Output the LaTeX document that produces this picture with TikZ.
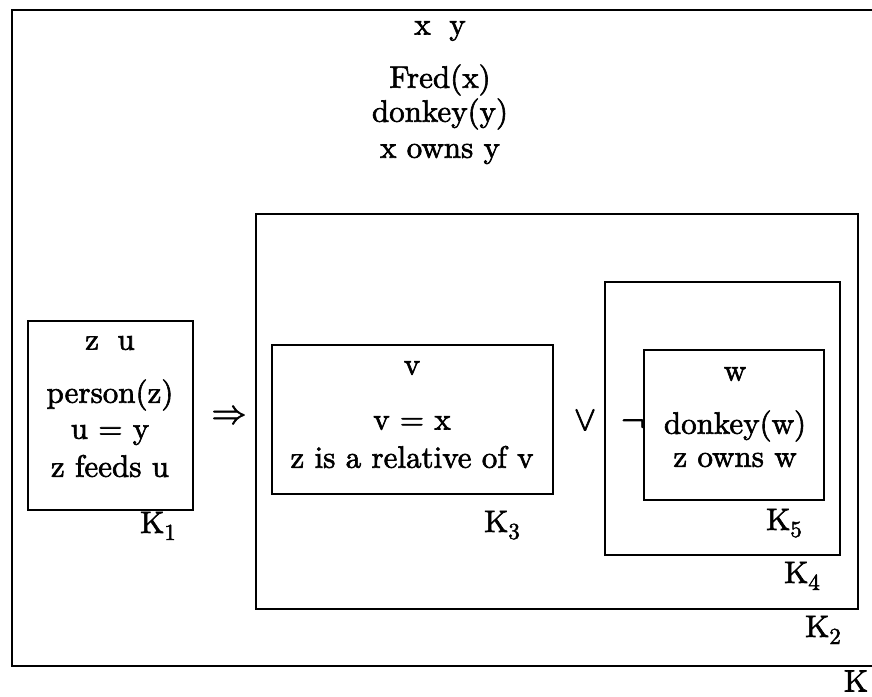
\documentclass[tikz,border=0pt]{standalone}
\usepackage{fontspec}
\newfontfamily\heavyfont{lmroman10-regular.otf}[FakeBold=2]
\newfontfamily\symfont{latinmodern-math.otf}[FakeBold=2]
\newcommand\Kwith[1]{K\raisebox{-7pt}{\fontsize{23}{26}\heavyfont #1}}
\begin{document}
\begin{tikzpicture}[x=1pt,y=-1pt,
  box/.style={draw,line width=1.8pt,minimum width=#1,inner sep=0pt},
  txt/.style={inner sep=0pt,font=\fontsize{31}{37}\heavyfont},
  sym/.style={inner sep=0pt,font=\fontsize{35}{40}\symfont},
  lbl/.style={inner sep=0pt,font=\fontsize{31}{37}\heavyfont}]
\useasboundingbox (0,0) rectangle (872,696);
% outer box K
\coordinate (ktr) at (880,10);
\coordinate (ktl) at (12,10);
\coordinate (kbl) at (12,666);
\coordinate (kbr) at (880,666);
\draw[line width=1.8pt] (ktr) -- (ktl) -- (kbl) -- (kbr);
\node[lbl] (kl) at (856,681) {K};
\node[txt] (h1) at (440,31) {x\hspace{0.6em}y};
\node[txt] (h2) at (440,80) {Fred(x)};
\node[txt] (h3) at (440,114) {donkey(y)};
\node[txt] (h4) at (440,154) {x owns y};
% K1
\node[box=165pt,minimum height=189pt] (k1) at (110.5,415.5) {};
\node[txt] (k1a) at (110,343) {z\hspace{0.6em}u};
\node[txt] (k1b) at (110,395) {person(z)};
\node[txt] (k1c) at (110,435) {u = y};
\node[txt] (k1d) at (110,466) {z feeds u};
\node[lbl,anchor=base west] (k1l) at (140,533) {\Kwith{1}};
\node[sym] (imp) at (229,415) {⇒};
% K2
\node[box=602pt,minimum height=395pt] (k2) at (557,411.5) {};
\node[lbl,anchor=base west] (k2l) at (805,637) {\Kwith{2}};
% K3
\node[box=281pt,minimum height=149pt] (k3) at (412.5,419.5) {};
\node[txt] (k3a) at (412,368) {v};
\node[txt] (k3b) at (412,423) {v = x};
\node[txt] (k3c) at (412,457) {z is a relative of v};
\node[lbl,anchor=base west] (k3l) at (484,532) {\Kwith{3}};
\node[sym] (or) at (585,420) {∨};
% K4
\node[box=235pt,minimum height=273pt] (k4) at (722.5,418.5) {};
\node[lbl,anchor=base west] (k4l) at (784,583) {\Kwith{4}};
\node[sym] (neg) at (633,426) {¬};
% K5
\node[box=180pt,minimum height=150pt] (k5) at (734,425) {};
\node[txt] (k5a) at (735,374) {w};
\node[txt] (k5b) at (735,426) {donkey(w)};
\node[txt] (k5c) at (735,460) {z owns w};
\node[lbl,anchor=base west] (k5l) at (766,530) {\Kwith{5}};
\end{tikzpicture}
\end{document}
